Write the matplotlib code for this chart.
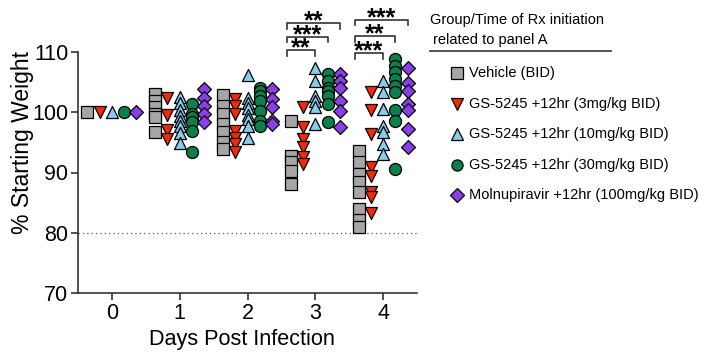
import matplotlib
matplotlib.use("Agg")
import matplotlib.pyplot as plt
import numpy as np

plt.rcParams['font.family'] = ['Liberation Sans', 'DejaVu Sans']

days = [0, 1, 2, 3, 4]
groups = ["Vehicle (BID)",
          "GS-5245 +12hr (3mg/kg BID)",
          "GS-5245 +12hr (10mg/kg BID)",
          "GS-5245 +12hr (30mg/kg BID)",
          "Molnupiravir +12hr (100mg/kg BID)"]
colors = ["#a6a6a6", "#f5290a", "#84cdee", "#0b7f4c", "#8a3fe6"]
markers = ["s", "v", "^", "o", "D"]
sizes = [70, 75, 75, 75, 50]

vehicle = [
    [100],
    [103.0, 101.8, 100.8, 99.7, 99.2, 96.8],
    [102.9, 101.1, 99.7, 98.1, 96.7, 95.0, 93.9],
    [98.5, 92.8, 91.7, 90.3, 88.1],
    [93.6, 91.7, 89.8, 88.4, 86.7, 84.0, 82.1, 81.0],
]
gs_3 = [
    [100],
    [102.4, 99.6, 97.1, 95.5],
    [102.2, 101.1, 99.7, 96.9, 95.8, 94.7, 93.4],
    [100.8, 97.5, 95.6, 94.2, 92.6, 91.4],
    [103.3, 100.3, 96.4, 90.9, 89.5, 86.7, 85.9, 83.2],
]
gs_10 = [
    [100],
    [102.6, 101.5, 100.4, 99.3, 98.5, 97.7, 96.6, 94.9],
    [106.2, 102.4, 101.5, 100.7, 99.6, 98.8, 97.7, 95.8],
    [107.4, 105.2, 102.7, 101.9, 100.8, 98.1],
    [105.2, 103.3, 100.5, 97.8, 96.7, 94.7, 93.1],
]
gs_30 = [
    [100],
    [101.4, 99.7, 99.2, 98.3, 96.9, 93.4],
    [104.1, 103.6, 102.7, 101.9, 100.2, 98.6, 97.7],
    [106.3, 105.2, 104.1, 103.6, 102.7, 101.4, 98.3],
    [108.8, 107.7, 106.6, 105.5, 104.4, 103.3, 100.3, 98.6, 90.6],
]
molnu = [
    [100],
    [103.8, 102.4, 101.0, 99.7, 98.3],
    [103.8, 102.2, 100.8, 98.6, 98.1],
    [106.3, 105.2, 104.1, 101.9, 100.2, 97.6],
    [107.4, 104.9, 103.6, 101.4, 100.3, 97.2, 94.2],
]
series = [vehicle, gs_3, gs_10, gs_30, molnu]
offsets = [-0.36, -0.18, 0.0, 0.18, 0.36]

# significance brackets: (day, left group, right group, level, label)
brackets = [
    (3, 0, 2, 110.3, "**"),
    (3, 0, 3, 112.5, "***"),
    (3, 0, 4, 114.8, "**"),
    (4, 0, 2, 109.8, "***"),
    (4, 0, 3, 112.6, "**"),
    (4, 0, 4, 115.3, "***"),
]

W, H = 715, 352
fig = plt.figure(figsize=(W / 100, H / 100), dpi=100)
ax = fig.add_axes([78 / W, 1 - 293 / H, 339 / W, 241 / H])

for gi, data in enumerate(series):
    for di, d in enumerate(days):
        vals = data[di]
        xs = np.full(len(vals), d + offsets[gi])
        ax.scatter(xs, vals, marker=markers[gi], s=sizes[gi], c=colors[gi],
                   edgecolors="black", linewidths=0.9, zorder=3 + gi, clip_on=False)

ax.axhline(80, color="#555555", lw=0.9, ls=(0, (1, 2.5)), zorder=1)

ax.set_xlim(-0.5, 4.5)
ax.set_ylim(70, 110)
ax.set_xticks(days)
ax.set_yticks([70, 80, 90, 100, 110])
ax.tick_params(axis="both", labelsize=15.5, width=1.2, length=5, color="#333333",
               pad=2)
for s in ["top", "right"]:
    ax.spines[s].set_visible(False)
for s in ["left", "bottom"]:
    ax.spines[s].set_linewidth(1.2)
    ax.spines[s].set_color("#333333")
ax.set_ylabel("% Starting Weight", fontsize=16.5)
ax.yaxis.set_label_coords((34 - 78) / 339, (293 - 143) / 241)
ax.set_xlabel("Days Post Infection", fontsize=15.6)
ax.xaxis.set_label_coords((241.5 - 78) / 339, -(345 - 293) / 241)
ax.xaxis.label.set_va("baseline")

for d, g1, g2, yv, lab in brackets:
    x1 = d + offsets[g1] - 0.06
    x2 = d + offsets[g2]
    ax.plot([x1, x1, x2, x2], [yv - 0.9, yv, yv, yv - 0.9], color="#333333",
            lw=1.2, clip_on=False, zorder=10)
    ax.text((x1 + x2) / 2, yv - 0.9, lab, ha="center", va="baseline", fontsize=18,
            fontweight="bold", clip_on=False)

# legend
fig.text(430 / W, 1 - 20 / H, "Group/Time of Rx initiation", fontsize=10.5,
         ha="left", va="center")
fig.text(433 / W, 1 - 40 / H, "related to panel A", fontsize=10.5,
         ha="left", va="center")
fig.add_artist(plt.Line2D([430 / W, 611 / W], [1 - 51 / H, 1 - 51 / H],
                          color="#333333", lw=1.2))
leg_y = [73, 104, 134, 165, 195]
for gi, name in enumerate(groups):
    fig.add_artist(plt.Line2D([457 / W], [1 - leg_y[gi] / H], marker=markers[gi],
                              markersize=8 if markers[gi] != "D" else 7,
                              markerfacecolor=colors[gi], markeredgecolor="black",
                              markeredgewidth=0.9, ls="none"))
    fig.text(469 / W, 1 - leg_y[gi] / H, name, fontsize=10.5, ha="left", va="center")

fig.savefig("out.png", dpi=100)
